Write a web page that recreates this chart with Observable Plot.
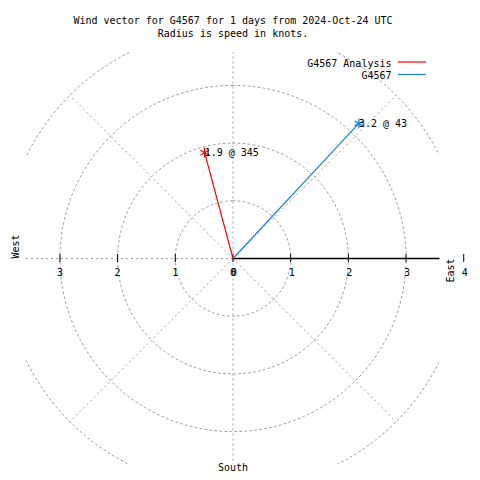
<!DOCTYPE html>
<html>
<head>
<meta charset="utf-8">
<script src="https://cdn.jsdelivr.net/npm/d3@7"></script>
<script src="https://cdn.jsdelivr.net/npm/@observablehq/plot@0.6"></script>
<style>
  body { margin: 0; background: #fff; }
  #chart svg { display: block; }
</style>
</head>
<body>
<div id="chart"></div>
<script>
// ---- data ----
const seriesNames = ["G4567 Analysis", "G4567"];
const seriesColors = ["#ff0000", "#1c7fe6"];
const speeds = [1.9, 3.2];       // knots
const directions = [345, 43];    // degrees clockwise from north
const ringRadii = [1, 2, 3, 4];
const spokeAngles = [0, 45, 90, 135, 180, 225, 270, 315];
const spokeLength = 4;
const eastTicks = [0, 1, 2, 3, 4];
const westTicks = [1, 2, 3];
const titleLines = ["Wind vector for G4567 for 1 days from 2024-Oct-24 UTC", "Radius is speed in knots."];
const compass = {west: "West", east: "East", south: "South"};

// ---- derived tables ----
const rad = d => d * Math.PI / 180;
const vectors = seriesNames.map((name, i) => ({
  name, color: seriesColors[i], speed: speeds[i], dir: directions[i],
  x: speeds[i] * Math.sin(rad(directions[i])),
  y: speeds[i] * Math.cos(rad(directions[i])),
  label: `${speeds[i]} @ ${directions[i]}`
}));
const ringPts = ringRadii.flatMap(r => d3.range(0, 361, 2).map(a => ({r, x: r * Math.sin(rad(a)), y: r * Math.cos(rad(a))})));
const spokes = spokeAngles.map(a => ({a, x: spokeLength * Math.sin(rad(a)), y: spokeLength * Math.cos(rad(a))}));
const westTickData = westTicks.map(v => ({v, x: -v}));
const eastTickData = eastTicks.map(v => ({v, x: v}));
const tickHalf = 0.07; // knots

const grid = "#a0a0a0";
const dash = "2,3";

const plot = Plot.plot({
  width: 480,
  height: 480,
  marginLeft: 26,
  marginRight: 41,
  marginTop: 52,
  marginBottom: 16,
  x: {domain: [-3.58, 3.58], axis: null},
  y: {domain: [-3.57, 3.57], axis: null},
  style: {fontFamily: "DejaVu Sans Mono", fontSize: "10px", color: "#000", background: "#fff"},
  marks: [
    Plot.line(ringPts, {x: "x", y: "y", z: "r", stroke: grid, strokeWidth: 1, strokeDasharray: dash, clip: true}),
    Plot.link(spokes, {x1: 0, y1: 0, x2: "x", y2: "y", stroke: grid, strokeWidth: 1, strokeDasharray: dash, clip: true}),
    Plot.link([{x: 3.58}], {x1: 0, y1: 0, x2: "x", y2: 0, stroke: "#000", strokeWidth: 1.5}),
    Plot.ruleX(westTickData, {x: "x", y1: -tickHalf, y2: tickHalf, stroke: "#000", strokeWidth: 1}),
    Plot.ruleX(eastTickData, {x: "x", y1: -tickHalf, y2: tickHalf, stroke: "#000", strokeWidth: 1}),
    Plot.text(westTickData.concat([{v: 0, x: 0}]), {x: "x", y: 0, text: d => String(d.v), dy: 14, fill: "#000"}),
    Plot.text(eastTickData, {x: "x", y: 0, text: d => String(d.v), dy: 14, dx: 1, fill: "#000"}),
    Plot.link(vectors, {x1: 0, y1: 0, x2: "x", y2: "y", stroke: "color", strokeWidth: 1.2}),
    Plot.dot(vectors, {x: "x", y: "y", symbol: "asterisk", r: 4.5, stroke: "color", strokeWidth: 1.3}),
    Plot.text(vectors, {x: "x", y: "y", text: "label", textAnchor: "start", dx: 0, fill: "#000", fontSize: 10}),
    Plot.text([compass.west], {frameAnchor: "left", y: 0, dx: -11, rotate: -90, fill: "#000", fontSize: 10}),
    Plot.text([compass.east], {frameAnchor: "right", y: 0, dx: 11, rotate: -90, fill: "#000", fontSize: 10}),
    Plot.text([compass.south], {frameAnchor: "bottom", x: 0, dy: 6, fill: "#000", fontSize: 10}),
    Plot.text([titleLines[0]], {frameAnchor: "top", lineAnchor: "middle", dy: -32, fill: "#000", fontSize: 10}),
    Plot.text([titleLines[1]], {frameAnchor: "top", lineAnchor: "middle", dy: -19, fill: "#000", fontSize: 10}),
    Plot.text([seriesNames[0]], {frameAnchor: "top-right", lineAnchor: "middle", textAnchor: "end", dx: -48, dy: 11, fill: "#000", fontSize: 10}),
    Plot.text([seriesNames[1]], {frameAnchor: "top-right", lineAnchor: "middle", textAnchor: "end", dx: -48, dy: 23, fill: "#000", fontSize: 10})
  ]
});
// legend swatches
const svg = d3.select(plot);
vectors.forEach((v, j) => {
  svg.append("line")
    .attr("x1", 398).attr("x2", 426)
    .attr("y1", 62 + 12.5 * j).attr("y2", 62 + 12.5 * j)
    .attr("stroke", v.color).attr("stroke-width", 1.2);
});
document.getElementById("chart").appendChild(plot);
</script>
</body>
</html>
